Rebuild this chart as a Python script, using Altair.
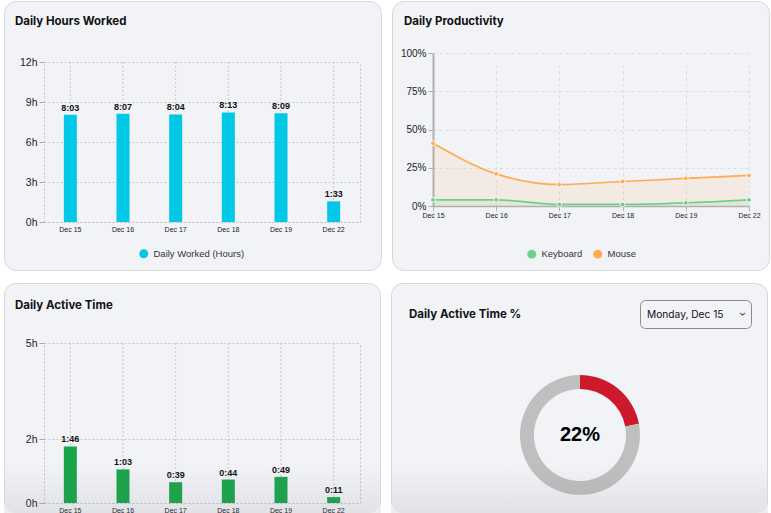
import altair as alt
import pandas as pd

# ---------------- data ----------------
dates = ["Dec 15", "Dec 16", "Dec 17", "Dec 18", "Dec 19", "Dec 22"]
worked_labels = ["8:03", "8:07", "8:04", "8:13", "8:09", "1:33"]
active_labels = ["1:46", "1:03", "0:39", "0:44", "0:49", "0:11"]
keyboard_pct = [4, 4, 1, 1, 2, 4]
mouse_pct = [41, 21, 14, 16, 18, 20]
hours_ticks = [0, 3, 6, 9, 12]
active_ticks = [0, 2, 5]
pct_ticks = [0, 25, 50, 75, 100]
share_parts = ["Active", "Inactive"]
share_values = [22, 78]
selected_day = "Monday, Dec 15"
titles = ["Daily Hours Worked", "Daily Productivity", "Daily Active Time", "Daily Active Time %"]
series_names = ["Keyboard", "Mouse"]
series_colors = ["#6cd08e", "#ffab4f"]

# ---------------- style ----------------
FONT = "Liberation Sans"
TFONT = "Inter"
CARD_FILL = "#f2f3f7"
CARD_STROKE = "#d6d6db"
GRID = "#c6c6ca"
W = 377
H_TOP = 269
H_BOT = 230
TSIZE = 11.5


def to_hours(s):
    h, m = s.split(":")
    return int(h) + int(m) / 60


def text_layer(text, x, y, size, weight="bold", font=TFONT, color="#111111",
               align="left", baseline="alphabetic", angle=0):
    return alt.Chart(alt.Data(values=[{"t": text}])).mark_text(
        align=align, baseline=baseline, fontSize=size, fontWeight=weight,
        font=font, color=color, angle=angle
    ).encode(x=alt.value(x), y=alt.value(y), text="t:N")


def bottom_fade(H):
    grad = alt.LinearGradient(
        gradient="linear",
        stops=[alt.GradientStop(color="rgba(110,110,120,0)", offset=0),
               alt.GradientStop(color="rgba(110,110,120,0.13)", offset=1)],
        x1=0, x2=0, y1=0, y2=1)
    return alt.Chart(alt.Data(values=[{}])).mark_rect(color=grad).encode(
        x=alt.value(0), x2=alt.value(W), y=alt.value(H - 50), y2=alt.value(H))


def outline_open_bottom(H):
    return alt.Chart(alt.Data(values=[{}])).mark_rect(
        clip=True, cornerRadius=12, fill="transparent", stroke=CARD_STROKE, strokeWidth=1
    ).encode(x=alt.value(0.5), x2=alt.value(W - 0.5), y=alt.value(0.5), y2=alt.value(H + 30))


def bar_card(title, labels, color, series, ticks, ymax, H, y0, y1, title_y, show_legend):
    df = pd.DataFrame({"date": dates, "hours": [to_hours(s) for s in labels],
                       "label": labels, "series": series})
    base = alt.Chart(df)
    x = alt.X("date:N", sort=dates, title=None,
              scale=alt.Scale(range=[40, 356], paddingInner=0, paddingOuter=0),
              axis=alt.Axis(offset=-(H - y0), grid=False,
                            domainColor=GRID, domainDash=[2, 2], ticks=False,
                            labelFontSize=7, labelFont=FONT, labelColor="#222222",
                            labelPadding=3, labelAngle=0))
    yscale = alt.Scale(domain=[0, ymax], range=[y0, y1], nice=False, zero=True)
    y_left = alt.Y("hours:Q", title=None, scale=yscale,
                   axis=alt.Axis(values=ticks, labelExpr="datum.value + 'h'", offset=-40,
                                 grid=True, gridDash=[2, 2], gridColor=GRID,
                                 domainColor=GRID, domainDash=[2, 2], tickColor="#aaaaaa",
                                 tickSize=5, labelFontSize=10.5, labelFont=FONT,
                                 labelColor="#222222", labelPadding=2))
    y_right = alt.Y("hours:Q", title=None, scale=yscale,
                    axis=alt.Axis(orient="right", offset=-(W - 356), labels=False, ticks=False,
                                  grid=False, domainColor=GRID, domainDash=[2, 2]))
    if show_legend:
        leg = alt.Legend(orient="none", legendX=135, legendY=248, title=None,
                         symbolType="circle", symbolSize=80, symbolStrokeWidth=0,
                         labelFontSize=9.5, labelFont=FONT, labelColor="#333333",
                         padding=0, labelOffset=5)
    else:
        leg = None
    vgrid = base.mark_rule(strokeDash=[2, 2], color=GRID, strokeWidth=1).encode(
        x=x, y=alt.value(y1), y2=alt.value(y0))
    bars = base.mark_bar(width=13).encode(
        x=x, y=y_left,
        color=alt.Color("series:N", scale=alt.Scale(domain=[series], range=[color]), legend=leg))
    texts = base.mark_text(dy=-4, baseline="alphabetic", fontSize=9, fontWeight="bold",
                           font=FONT, color="#111111").encode(x=x, y=y_right, text="label:N")
    return vgrid, bars, texts, text_layer(title, 11, title_y, TSIZE)


# ---------------- card 1 ----------------
g1, b1, t1, ttl1 = bar_card(titles[0], worked_labels, "#00c8e6", "Daily Worked (Hours)",
                            hours_ticks, 12, H_TOP, 221, 61, 24, True)
card1 = alt.layer(ttl1, g1, b1, t1).resolve_axis(y="independent").properties(
    width=W, height=H_TOP,
    view=alt.ViewBackground(fill=CARD_FILL, stroke=CARD_STROKE, strokeWidth=1, cornerRadius=12))

# ---------------- card 2 ----------------
df2 = pd.DataFrame({"date": dates * 2,
                    "series": [series_names[0]] * len(dates) + [series_names[1]] * len(dates),
                    "pct": keyboard_pct + mouse_pct})
base2 = alt.Chart(df2)
x2 = alt.X("date:N", sort=dates, title=None,
           scale=alt.Scale(type="point", range=[41, 357], padding=0),
           axis=alt.Axis(offset=-(H_TOP - 205), grid=True, gridDash=[3, 3], gridColor="#dcdcdf",
                         domainColor="#b0b0b0", domainWidth=1.5, tickColor="#b0b0b0", tickSize=4,
                         labelFontSize=7, labelFont=FONT, labelColor="#222222", labelPadding=1,
                         labelAngle=0))
y2 = alt.Y("pct:Q", title=None, stack=False,
           scale=alt.Scale(domain=[0, 100], range=[205, 52], nice=False),
           axis=alt.Axis(values=pct_ticks, labelExpr="datum.value + '%'", offset=-41, grid=True,
                         gridDash=[3, 3], gridColor="#dcdcdf", domainColor="#b0b0b0", domainWidth=2,
                         tickColor="#b0b0b0", tickSize=5, labelFontSize=10, labelFont=FONT,
                         labelColor="#222222", labelPadding=2))
layers2 = [text_layer(titles[1], 12, 24, TSIZE)]
for name, col in zip(series_names, series_colors):
    sub = base2.transform_filter(alt.datum.series == name)
    layers2.append(sub.mark_area(interpolate="monotone", opacity=0.12, color=col).encode(x=x2, y=y2))
for name, col in zip(series_names, series_colors):
    sub = base2.transform_filter(alt.datum.series == name)
    layers2.append(sub.mark_line(interpolate="monotone", strokeWidth=1.7, color=col).encode(x=x2, y=y2))
pts2 = base2.mark_circle(size=22, opacity=1, stroke="white", strokeWidth=0.8).encode(
    x=x2, y=y2,
    color=alt.Color("series:N", scale=alt.Scale(domain=series_names, range=series_colors),
                    legend=alt.Legend(orient="none", legendX=135, legendY=248, title=None,
                                      direction="horizontal", symbolType="circle", symbolSize=80,
                                      symbolStrokeWidth=0, labelFontSize=9.5, labelFont=FONT,
                                      labelColor="#333333", padding=0, labelOffset=5,
                                      columnPadding=10)))
layers2.append(pts2)
card2 = alt.layer(*layers2).properties(
    width=W, height=H_TOP,
    view=alt.ViewBackground(fill=CARD_FILL, stroke=CARD_STROKE, strokeWidth=1, cornerRadius=12))

# ---------------- card 3 ----------------
g3, b3, t3, ttl3 = bar_card(titles[2], active_labels, "#19a54a", "Daily Active (Hours)",
                            active_ticks, 5, H_BOT, 220, 60, 25.5, False)
card3 = alt.layer(ttl3, g3, b3, t3, bottom_fade(H_BOT), outline_open_bottom(H_BOT)).resolve_axis(
    y="independent").properties(
    width=W, height=H_BOT,
    view=alt.ViewBackground(fill=CARD_FILL, stroke="transparent", strokeWidth=0, cornerRadius=12))

# ---------------- card 4 ----------------
df4 = pd.DataFrame({"part": share_parts, "value": share_values,
                    "order": list(range(len(share_parts)))})
donut = alt.Chart(df4).mark_arc(innerRadius=46, outerRadius=60).encode(
    theta=alt.Theta("value:Q"),
    color=alt.Color("part:N", scale=alt.Scale(domain=share_parts, range=["#cc1a2c", "#bfbfbf"]),
                    legend=None),
    order=alt.Order("order:Q"),
    x=alt.value(189), y=alt.value(152))
center_txt = text_layer(f"{share_values[0]}%", 189, 152, 20, font=FONT, align="center",
                        baseline="middle", color="#000000")
dropdown = alt.Chart(alt.Data(values=[{}])).mark_rect(
    cornerRadius=5, stroke="#8c8c8c", strokeWidth=1, fill=CARD_FILL
).encode(x=alt.value(249.5), x2=alt.value(360.5), y=alt.value(17.5), y2=alt.value(45.5))
dd_text = text_layer(selected_day, 256, 32, 10.2, weight="normal", baseline="middle")
dd_chev = text_layer("\u203a", 351, 31, 11, weight="normal", align="center",
                     baseline="middle", angle=90, color="#333333")
card4 = alt.layer(text_layer(titles[3], 18, 35, TSIZE), dropdown, dd_text, dd_chev, donut,
                  center_txt, bottom_fade(H_BOT), outline_open_bottom(H_BOT)).properties(
    width=W, height=H_BOT,
    view=alt.ViewBackground(fill=CARD_FILL, stroke="transparent", strokeWidth=0, cornerRadius=12))

row1 = alt.hconcat(card1, card2, spacing=9).resolve_scale(color="independent")
row2 = alt.hconcat(card3, card4, spacing=10).resolve_scale(color="independent")
chart = alt.vconcat(row1, row2, spacing=12).resolve_scale(color="independent").properties(
    padding={"left": 3, "top": 0, "right": 0, "bottom": 0},
    background="white",
)

chart.save("out.html", embed_options={"renderer": "svg", "actions": False})
